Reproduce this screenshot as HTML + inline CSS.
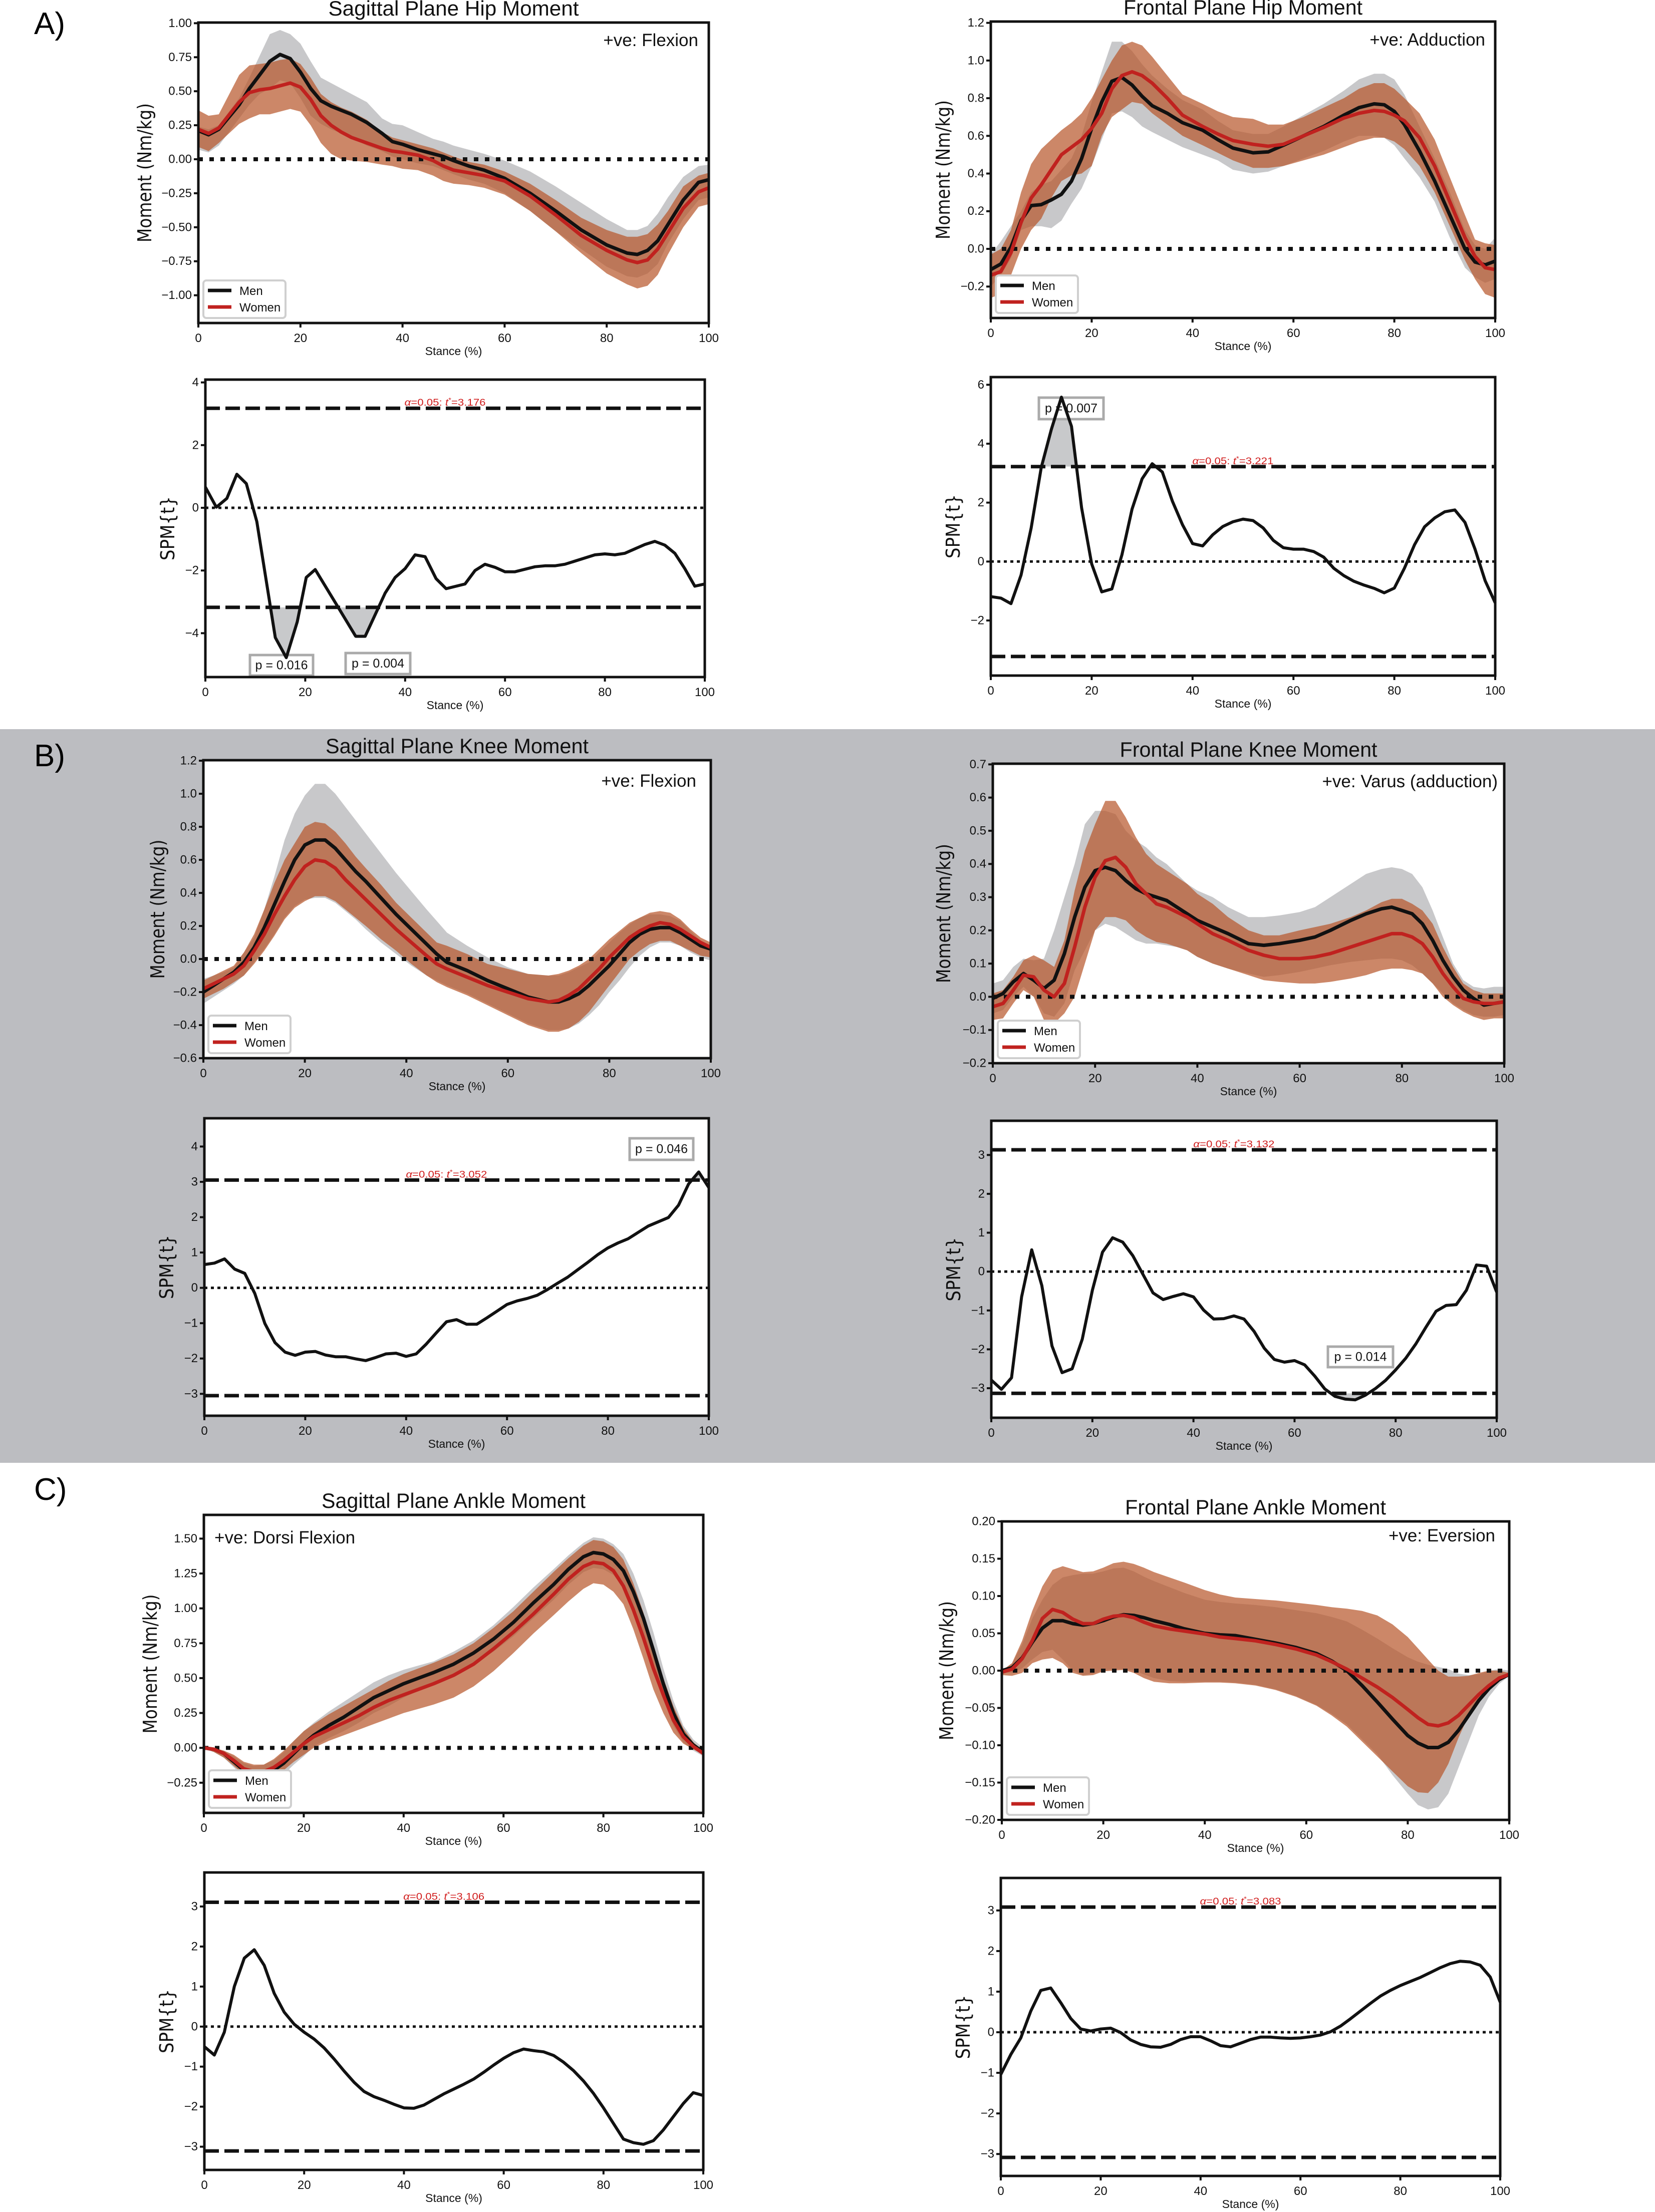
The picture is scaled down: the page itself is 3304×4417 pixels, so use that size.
<!DOCTYPE html>
<html><head><meta charset="utf-8"><title>Hip, Knee and Ankle Moments - Men vs Women</title>
<style>
html,body{margin:0;padding:0;background:#fff;}
svg{display:block;}
text{font-family:"Liberation Sans",sans-serif;}
</style></head>
<body>
<svg id="fig" xmlns="http://www.w3.org/2000/svg" width="3304" height="4417" viewBox="0 0 3304 4417">
<rect x="0" y="0" width="3304" height="4417" fill="#ffffff"/>
<rect x="0" y="1456" width="3304" height="1465" fill="#bcbdc1"/>
<text x="68" y="68" font-size="62">A)</text>
<text x="68" y="1530" font-size="62">B)</text>
<text x="68" y="2995" font-size="62">C)</text>
</svg>
<script>
// ===== DATA: Sagittal Plane Hip Moment =====
const hipSagX = [0,2,4,8,10,12,14,16,18,20,22,24,26,28,30,33,36,38,40,43,46,48,50,53,56,60,65,70,75,80,84,86,88,90,92,95,98,100];
const hipSagMen = [0.21,0.18,0.22,0.4,0.52,0.62,0.72,0.77,0.74,0.64,0.52,0.43,0.39,0.36,0.33,0.27,0.19,0.13,0.11,0.07,0.04,0.02,-0.01,-0.05,-0.08,-0.14,-0.25,-0.38,-0.52,-0.63,-0.69,-0.7,-0.67,-0.6,-0.48,-0.3,-0.17,-0.15];
const hipSagMenUp = [0.24,0.22,0.25,0.45,0.6,0.76,0.92,0.95,0.92,0.85,0.72,0.6,0.56,0.52,0.48,0.42,0.3,0.26,0.25,0.2,0.15,0.13,0.1,0.07,0.04,-0.01,-0.09,-0.2,-0.32,-0.44,-0.52,-0.52,-0.49,-0.4,-0.28,-0.13,-0.05,-0.04];
const hipSagMenLo = [0.07,0.05,0.1,0.3,0.4,0.48,0.52,0.58,0.56,0.45,0.32,0.26,0.22,0.19,0.16,0.1,0.06,0.02,0.0,-0.03,-0.05,-0.08,-0.11,-0.15,-0.18,-0.25,-0.38,-0.53,-0.66,-0.79,-0.86,-0.87,-0.84,-0.77,-0.62,-0.44,-0.3,-0.28];
const hipSagWomen = [0.22,0.19,0.23,0.42,0.49,0.51,0.52,0.54,0.56,0.53,0.44,0.32,0.25,0.2,0.16,0.12,0.08,0.06,0.05,0.03,-0.01,-0.05,-0.08,-0.1,-0.12,-0.16,-0.27,-0.41,-0.56,-0.67,-0.74,-0.76,-0.74,-0.66,-0.54,-0.36,-0.24,-0.21];
const hipSagWomenUp = [0.36,0.32,0.33,0.62,0.69,0.7,0.71,0.73,0.74,0.7,0.6,0.48,0.42,0.38,0.35,0.29,0.2,0.16,0.14,0.11,0.08,0.05,0.02,-0.02,-0.04,-0.09,-0.18,-0.3,-0.43,-0.52,-0.57,-0.57,-0.55,-0.48,-0.38,-0.2,-0.12,-0.1];
const hipSagWomenLo = [0.09,0.06,0.12,0.26,0.3,0.33,0.33,0.35,0.37,0.35,0.25,0.12,0.04,0.0,-0.01,-0.02,-0.04,-0.05,-0.07,-0.08,-0.12,-0.16,-0.18,-0.19,-0.21,-0.26,-0.38,-0.53,-0.69,-0.84,-0.92,-0.95,-0.93,-0.85,-0.7,-0.5,-0.35,-0.33];
const hipSagTicks = [-1.0,-0.75,-0.5,-0.25,0.0,0.25,0.5,0.75,1.0];

// ===== DATA: Frontal Plane Hip Moment =====
const hipFrX = [0,2,4,6,8,10,12,14,16,18,20,22,24,26,28,30,32,35,38,42,45,48,52,55,58,62,66,70,73,76,78,80,82,85,88,91,94,96,98,100];
const hipFrMen = [-0.11,-0.08,0.01,0.15,0.23,0.235,0.26,0.29,0.36,0.48,0.64,0.78,0.89,0.91,0.87,0.81,0.76,0.72,0.67,0.63,0.58,0.535,0.51,0.515,0.55,0.6,0.65,0.71,0.75,0.77,0.765,0.73,0.66,0.52,0.36,0.18,0.0,-0.07,-0.085,-0.065];
const hipFrMenUp = [-0.03,0.04,0.12,0.2,0.3,0.34,0.36,0.42,0.48,0.6,0.78,0.94,1.1,1.1,1.05,0.98,0.92,0.85,0.79,0.74,0.68,0.63,0.61,0.61,0.65,0.71,0.77,0.84,0.9,0.93,0.93,0.9,0.82,0.65,0.48,0.3,0.1,0.02,0.0,0.06];
const hipFrMenLo = [-0.2,-0.14,-0.05,0.1,0.12,0.12,0.11,0.15,0.24,0.32,0.44,0.58,0.72,0.73,0.7,0.65,0.62,0.58,0.54,0.5,0.47,0.42,0.4,0.41,0.44,0.48,0.52,0.57,0.6,0.6,0.59,0.55,0.48,0.38,0.25,0.06,-0.1,-0.15,-0.18,-0.16];
const hipFrWomen = [-0.14,-0.12,-0.02,0.14,0.27,0.34,0.42,0.5,0.54,0.58,0.64,0.72,0.85,0.92,0.94,0.92,0.88,0.8,0.71,0.65,0.61,0.575,0.555,0.545,0.555,0.6,0.645,0.695,0.72,0.735,0.73,0.71,0.68,0.59,0.44,0.25,0.06,-0.04,-0.1,-0.11];
const hipFrWomenUp = [-0.03,0.0,0.1,0.3,0.45,0.53,0.58,0.63,0.67,0.72,0.8,0.9,1.0,1.08,1.1,1.08,1.02,0.92,0.82,0.77,0.73,0.7,0.69,0.66,0.66,0.7,0.75,0.8,0.85,0.88,0.88,0.85,0.8,0.72,0.58,0.38,0.18,0.05,0.03,0.02];
const hipFrWomenLo = [-0.26,-0.24,-0.14,0.0,0.1,0.16,0.27,0.36,0.39,0.4,0.44,0.6,0.7,0.74,0.78,0.77,0.72,0.66,0.6,0.55,0.51,0.47,0.43,0.43,0.44,0.47,0.5,0.54,0.57,0.59,0.59,0.57,0.53,0.44,0.3,0.12,-0.06,-0.16,-0.24,-0.26];
const hipFrTicks = [-0.2,0.0,0.2,0.4,0.6,0.8,1.0,1.2];

// ===== DATA: Sagittal Plane Knee Moment =====
const kneeSagX = [0,2,4,6,8,10,12,14,16,18,20,22,24,26,28,30,32,35,38,41,44,46,48,52,56,60,64,68,70,72,74,76,78,80,82,84,86,88,90,92,94,96,98,100];
const kneeSagMen = [-0.2,-0.16,-0.12,-0.08,-0.02,0.07,0.19,0.33,0.47,0.6,0.69,0.72,0.72,0.67,0.6,0.53,0.47,0.37,0.27,0.18,0.09,0.03,-0.02,-0.07,-0.13,-0.18,-0.23,-0.26,-0.26,-0.24,-0.21,-0.16,-0.1,-0.04,0.03,0.1,0.15,0.18,0.19,0.19,0.16,0.12,0.08,0.06];
const kneeSagMenUp = [-0.12,-0.1,-0.08,-0.05,0.04,0.13,0.3,0.5,0.72,0.88,0.99,1.06,1.06,1.0,0.92,0.84,0.76,0.64,0.52,0.41,0.3,0.23,0.16,0.08,0.01,-0.05,-0.09,-0.1,-0.1,-0.08,-0.05,-0.02,0.04,0.1,0.16,0.21,0.25,0.27,0.27,0.26,0.23,0.17,0.11,0.08];
const kneeSagMenLo = [-0.27,-0.23,-0.19,-0.15,-0.1,-0.02,0.06,0.15,0.25,0.32,0.36,0.37,0.37,0.34,0.29,0.24,0.18,0.1,0.03,-0.04,-0.1,-0.13,-0.16,-0.21,-0.27,-0.33,-0.39,-0.43,-0.43,-0.42,-0.39,-0.34,-0.28,-0.2,-0.13,-0.05,0.02,0.07,0.1,0.1,0.08,0.04,0.01,-0.01];
const kneeSagWomen = [-0.18,-0.15,-0.12,-0.09,-0.04,0.05,0.15,0.27,0.38,0.48,0.56,0.6,0.59,0.55,0.48,0.42,0.36,0.27,0.18,0.1,0.02,-0.03,-0.06,-0.11,-0.16,-0.2,-0.24,-0.26,-0.25,-0.22,-0.18,-0.12,-0.06,0.01,0.07,0.13,0.17,0.2,0.22,0.21,0.18,0.14,0.1,0.07];
const kneeSagWomenUp = [-0.13,-0.1,-0.07,-0.04,0.04,0.15,0.3,0.46,0.6,0.7,0.8,0.83,0.82,0.77,0.7,0.62,0.55,0.45,0.34,0.25,0.16,0.1,0.08,0.03,-0.03,-0.06,-0.09,-0.1,-0.09,-0.07,-0.04,0.0,0.06,0.12,0.17,0.22,0.25,0.28,0.29,0.28,0.24,0.18,0.13,0.1];
const kneeSagWomenLo = [-0.24,-0.21,-0.18,-0.14,-0.1,-0.03,0.05,0.14,0.24,0.31,0.35,0.38,0.38,0.35,0.3,0.25,0.2,0.12,0.05,-0.03,-0.1,-0.14,-0.17,-0.22,-0.28,-0.34,-0.4,-0.44,-0.44,-0.42,-0.38,-0.32,-0.24,-0.16,-0.08,0.0,0.05,0.09,0.11,0.11,0.08,0.05,0.02,0.01];
const kneeSagTicks = [-0.6,-0.4,-0.2,0.0,0.2,0.4,0.6,0.8,1.0,1.2];

// ===== DATA: Frontal Plane Knee Moment =====
const kneeFrX = [0,2,4,6,8,10,12,14,16,18,20,22,24,26,28,30,32,34,36,38,40,43,46,50,53,56,60,63,66,70,73,76,78,80,82,84,86,88,90,92,94,96,98,100];
const kneeFrMen = [-0.005,0.01,0.045,0.07,0.05,0.025,0.05,0.13,0.24,0.33,0.38,0.39,0.38,0.35,0.325,0.31,0.3,0.29,0.27,0.25,0.23,0.21,0.19,0.16,0.155,0.16,0.17,0.18,0.2,0.23,0.25,0.265,0.27,0.26,0.25,0.22,0.17,0.11,0.06,0.02,-0.005,-0.025,-0.02,-0.015];
const kneeFrMenUp = [0.04,0.05,0.09,0.115,0.11,0.115,0.2,0.3,0.4,0.52,0.56,0.56,0.55,0.5,0.47,0.45,0.42,0.4,0.37,0.34,0.32,0.3,0.27,0.24,0.24,0.245,0.255,0.27,0.3,0.34,0.37,0.385,0.39,0.385,0.37,0.33,0.26,0.18,0.1,0.05,0.03,0.025,0.03,0.03];
const kneeFrMenLo = [-0.05,-0.04,0.0,0.03,0.0,-0.05,-0.06,-0.02,0.08,0.14,0.2,0.22,0.21,0.19,0.17,0.16,0.16,0.155,0.15,0.14,0.12,0.1,0.085,0.07,0.06,0.065,0.075,0.085,0.095,0.105,0.11,0.115,0.115,0.11,0.095,0.07,0.04,0.01,-0.02,-0.04,-0.055,-0.06,-0.06,-0.055];
const kneeFrWomen = [-0.03,-0.02,0.02,0.065,0.06,0.02,0.0,0.04,0.15,0.27,0.36,0.41,0.42,0.39,0.34,0.31,0.28,0.27,0.255,0.24,0.22,0.19,0.17,0.14,0.125,0.115,0.115,0.12,0.13,0.15,0.165,0.18,0.19,0.19,0.18,0.16,0.12,0.07,0.03,-0.005,-0.015,-0.02,-0.02,-0.015];
const kneeFrWomenUp = [0.01,0.02,0.06,0.11,0.125,0.11,0.09,0.17,0.32,0.44,0.52,0.59,0.59,0.54,0.48,0.43,0.4,0.38,0.36,0.34,0.31,0.28,0.24,0.2,0.185,0.185,0.2,0.21,0.22,0.24,0.26,0.285,0.295,0.295,0.28,0.26,0.22,0.15,0.09,0.04,0.02,0.01,0.01,0.01];
const kneeFrWomenLo = [-0.07,-0.065,-0.02,0.02,0.0,-0.07,-0.08,-0.05,0.0,0.1,0.2,0.24,0.24,0.23,0.2,0.18,0.165,0.16,0.15,0.14,0.12,0.1,0.085,0.065,0.05,0.045,0.04,0.04,0.045,0.055,0.065,0.08,0.085,0.085,0.08,0.07,0.04,0.0,-0.025,-0.045,-0.06,-0.07,-0.065,-0.065];
const kneeFrTicks = [-0.2,-0.1,0.0,0.1,0.2,0.3,0.4,0.5,0.6,0.7];

// ===== DATA: Sagittal Plane Ankle Moment =====
const ankSagX = [0,2,4,6,8,10,12,14,16,18,20,22,25,28,31,34,37,40,43,46,50,54,58,62,66,70,73,76,78,80,82,84,86,88,90,92,94,96,98,100];
const ankSagMen = [0.0,-0.01,-0.04,-0.1,-0.16,-0.19,-0.19,-0.16,-0.11,-0.04,0.03,0.09,0.16,0.22,0.29,0.36,0.41,0.46,0.5,0.54,0.6,0.68,0.78,0.9,1.04,1.17,1.28,1.37,1.4,1.39,1.35,1.27,1.12,0.93,0.7,0.46,0.25,0.1,0.02,-0.03];
const ankSagMenUp = [0.01,0.0,-0.02,-0.06,-0.11,-0.13,-0.12,-0.09,-0.03,0.05,0.12,0.18,0.26,0.33,0.4,0.47,0.52,0.56,0.59,0.62,0.69,0.77,0.88,1.01,1.15,1.28,1.38,1.47,1.51,1.5,1.46,1.39,1.25,1.06,0.83,0.57,0.34,0.16,0.06,0.0];
const ankSagMenLo = [-0.01,-0.03,-0.07,-0.14,-0.21,-0.25,-0.26,-0.23,-0.19,-0.12,-0.06,0.01,0.07,0.12,0.18,0.25,0.3,0.36,0.41,0.46,0.52,0.6,0.69,0.8,0.93,1.06,1.17,1.26,1.29,1.28,1.24,1.15,0.99,0.8,0.57,0.35,0.16,0.04,-0.02,-0.06];
const ankSagWomen = [0.0,-0.01,-0.04,-0.09,-0.15,-0.17,-0.17,-0.14,-0.09,-0.03,0.03,0.08,0.13,0.18,0.23,0.29,0.34,0.38,0.42,0.46,0.52,0.6,0.71,0.83,0.96,1.1,1.21,1.3,1.33,1.32,1.27,1.16,0.99,0.79,0.57,0.38,0.2,0.08,0.01,-0.04];
const ankSagWomenUp = [0.0,0.0,-0.02,-0.05,-0.1,-0.12,-0.12,-0.08,-0.02,0.05,0.12,0.17,0.24,0.3,0.36,0.42,0.48,0.53,0.57,0.61,0.67,0.75,0.86,0.98,1.12,1.26,1.36,1.45,1.49,1.48,1.44,1.35,1.18,0.97,0.73,0.5,0.3,0.14,0.04,-0.02];
const ankSagWomenLo = [0.0,-0.03,-0.07,-0.13,-0.19,-0.23,-0.23,-0.2,-0.16,-0.1,-0.05,0.0,0.05,0.09,0.13,0.17,0.21,0.25,0.28,0.31,0.36,0.44,0.55,0.68,0.82,0.95,1.05,1.14,1.18,1.17,1.12,1.03,0.85,0.64,0.42,0.25,0.11,0.03,-0.01,-0.05];
const ankSagTicks = [-0.25,0.0,0.25,0.5,0.75,1.0,1.25,1.5];

// ===== DATA: Frontal Plane Ankle Moment =====
const ankFrX = [0,2,4,6,8,10,12,14,16,18,20,22,24,26,28,30,33,36,40,43,46,50,54,58,62,65,68,71,74,77,80,82,84,86,88,90,92,94,96,98,100];
const ankFrMen = [0.0,0.004,0.017,0.038,0.057,0.067,0.067,0.063,0.061,0.063,0.067,0.072,0.075,0.074,0.071,0.067,0.062,0.056,0.05,0.048,0.047,0.042,0.037,0.031,0.023,0.013,0.0,-0.02,-0.042,-0.065,-0.087,-0.097,-0.103,-0.103,-0.096,-0.08,-0.06,-0.04,-0.024,-0.012,-0.005];
const ankFrMenUp = [0.0,0.01,0.035,0.07,0.095,0.115,0.125,0.128,0.13,0.13,0.133,0.137,0.138,0.133,0.126,0.12,0.112,0.104,0.095,0.092,0.09,0.088,0.085,0.081,0.077,0.072,0.066,0.055,0.043,0.03,0.018,0.012,0.008,0.005,0.002,-0.004,-0.006,-0.005,0.0,0.002,0.0];
const ankFrMenLo = [-0.002,-0.003,0.003,0.015,0.025,0.028,0.015,0.0,-0.006,-0.004,0.0,0.002,0.002,0.0,-0.005,-0.01,-0.014,-0.015,-0.015,-0.015,-0.016,-0.019,-0.025,-0.034,-0.046,-0.058,-0.072,-0.092,-0.112,-0.14,-0.165,-0.18,-0.186,-0.183,-0.165,-0.13,-0.095,-0.06,-0.035,-0.018,-0.007];
const ankFrWomen = [-0.002,0.002,0.016,0.04,0.07,0.082,0.078,0.069,0.063,0.063,0.069,0.073,0.074,0.071,0.065,0.06,0.056,0.053,0.049,0.045,0.043,0.04,0.035,0.029,0.021,0.012,0.002,-0.01,-0.022,-0.036,-0.052,-0.063,-0.072,-0.074,-0.07,-0.06,-0.046,-0.032,-0.02,-0.01,-0.005];
const ankFrWomenUp = [0.0,0.01,0.04,0.08,0.113,0.135,0.14,0.136,0.132,0.133,0.138,0.144,0.146,0.143,0.138,0.132,0.125,0.118,0.108,0.102,0.098,0.096,0.094,0.091,0.088,0.085,0.083,0.08,0.074,0.062,0.045,0.03,0.015,0.0,-0.008,-0.008,-0.007,-0.003,0.0,0.0,-0.003];
const ankFrWomenLo = [-0.006,-0.007,-0.003,0.01,0.015,0.017,0.01,-0.003,-0.007,-0.006,-0.001,0.0,0.001,-0.003,-0.01,-0.015,-0.017,-0.017,-0.016,-0.016,-0.017,-0.02,-0.026,-0.035,-0.047,-0.06,-0.075,-0.095,-0.115,-0.135,-0.155,-0.163,-0.164,-0.15,-0.125,-0.09,-0.06,-0.037,-0.02,-0.01,-0.006];
const ankFrTicks = [-0.2,-0.15,-0.1,-0.05,0.0,0.05,0.1,0.15,0.2];

// ===== DATA: SPM{t} curves =====
const spmStance = [0,2,4,6,8,10,12,14,16,18,20,22,24,26,28,30,32,34,36,38,40,42,44,46,48,50,52,54,56,58,60,62,64,66,68,70,72,74,76,78,80,82,84,86,88,90,92,94,96,98,100];
const hipSagSpmX = [0,2.2,4.3,6.3,8.2,10.3,14,16.2,18.4,20.2,22,26.5,30.1,32,36,38,40,42,44,46.2,48.2,52,54,56,58,60,62,66,68,70,72,78,80,82,84,88,90,92,94,96,98,100];
const hipSagSpmT = [0.66,0.02,0.3,1.07,0.77,-0.44,-4.14,-4.78,-3.64,-2.22,-1.97,-3.15,-4.1,-4.1,-2.72,-2.22,-1.94,-1.5,-1.56,-2.26,-2.58,-2.43,-2.0,-1.8,-1.9,-2.04,-2.04,-1.88,-1.85,-1.85,-1.8,-1.5,-1.47,-1.5,-1.45,-1.17,-1.07,-1.19,-1.45,-1.94,-2.5,-2.43];
const hipFrSpmT = [-1.19,-1.24,-1.43,-0.46,1.14,3.19,4.48,5.58,4.59,1.82,-0.08,-1.03,-0.93,0.23,1.78,2.81,3.32,3.04,2.05,1.25,0.61,0.53,0.91,1.19,1.35,1.44,1.39,1.14,0.72,0.47,0.42,0.42,0.34,0.15,-0.23,-0.48,-0.67,-0.8,-0.91,-1.06,-0.9,-0.23,0.57,1.18,1.48,1.69,1.75,1.33,0.42,-0.65,-1.4];
const kneeSagSpmT = [0.66,0.7,0.82,0.53,0.41,-0.16,-1.01,-1.55,-1.82,-1.91,-1.82,-1.8,-1.9,-1.95,-1.95,-2.01,-2.06,-1.97,-1.87,-1.85,-1.94,-1.87,-1.59,-1.27,-0.96,-0.9,-1.03,-1.03,-0.85,-0.66,-0.47,-0.37,-0.3,-0.21,-0.05,0.13,0.3,0.51,0.72,0.94,1.13,1.27,1.39,1.57,1.75,1.87,1.99,2.34,2.94,3.28,2.84];
const kneeFrSpmT = [-2.79,-3.03,-2.73,-0.65,0.56,-0.36,-1.91,-2.6,-2.5,-1.74,-0.48,0.5,0.87,0.76,0.41,-0.07,-0.55,-0.72,-0.64,-0.57,-0.65,-0.99,-1.22,-1.21,-1.14,-1.22,-1.54,-1.97,-2.26,-2.33,-2.29,-2.4,-2.69,-3.02,-3.21,-3.28,-3.3,-3.18,-3.01,-2.8,-2.53,-2.23,-1.86,-1.43,-1.02,-0.87,-0.85,-0.48,0.17,0.14,-0.53];
const ankSagSpmT = [-0.5,-0.71,-0.14,1.0,1.71,1.92,1.53,0.83,0.36,0.06,-0.14,-0.31,-0.53,-0.81,-1.11,-1.39,-1.62,-1.75,-1.84,-1.94,-2.03,-2.04,-1.96,-1.82,-1.68,-1.56,-1.44,-1.31,-1.14,-0.96,-0.79,-0.65,-0.56,-0.6,-0.63,-0.72,-0.89,-1.1,-1.36,-1.67,-2.03,-2.42,-2.81,-2.9,-2.94,-2.85,-2.58,-2.25,-1.92,-1.65,-1.72];
const ankFrSpmT = [-1.04,-0.55,-0.14,0.52,1.03,1.09,0.73,0.34,0.08,0.03,0.08,0.1,-0.01,-0.19,-0.3,-0.36,-0.37,-0.3,-0.18,-0.11,-0.11,-0.21,-0.33,-0.36,-0.27,-0.18,-0.12,-0.12,-0.14,-0.15,-0.14,-0.11,-0.07,0.01,0.15,0.33,0.52,0.71,0.89,1.03,1.15,1.25,1.35,1.47,1.59,1.69,1.75,1.73,1.65,1.36,0.74];
const spmThresholds = [3.176,3.221,3.052,3.132,3.106,3.083];
const spmTicks4 = [-4,-2,0,2,4];
const spmTicks6 = [-2,0,2,4,6];
const spmTicksK = [-3,-2,-1,0,1,2,3,4];
const spmTicks3 = [-3,-2,-1,0,1,2,3];
const xTickVals = [0,20,40,60,80,100];

// ===== RENDERING =====
const svg = document.getElementById('fig');
const NS = 'http://www.w3.org/2000/svg';
let clipCount = 0;
function el(tag, parent, attrs){
  const e = document.createElementNS(NS, tag);
  for (const k in attrs) e.setAttribute(k, attrs[k]);
  parent.appendChild(e);
  return e;
}
function fmtTick(v, dec){
  const s = Math.abs(v).toFixed(dec);
  return (v < -1e-9 ? '\u2212' : '') + s;
}
function makeAxes(P){
  P.sx = v => P.x0 + v / 100 * (P.x1 - P.x0);
  P.sy = v => P.y1 - (v - P.ymin) / (P.ymax - P.ymin) * (P.y1 - P.y0);
  const g = el('g', svg, {});
  
  
  const bg = el('rect', g, {x:P.x0, y:P.y0, width:P.x1-P.x0, height:P.y1-P.y0, fill:'#ffffff'});
  
  
  const id = 'clip' + (clipCount++);
  const cp = el('clipPath', g, {id:id});
  el('rect', cp, {x:P.x0, y:P.y0, width:P.x1-P.x0, height:P.y1-P.y0});
  const inner = el('g', g, {'clip-path':'url(#' + id + ')'});
  
  
  P.g = g; P.inner = inner;
  return P;
}
function finishAxes(P, yTicks, dec, ylabel, ylabelOff, ylabelLen){
  const g = P.g;
  const frame = el('rect', g, {x:P.x0, y:P.y0, width:P.x1-P.x0, height:P.y1-P.y0, fill:'none', stroke:'#111', 'stroke-width':5});
  
  
  for (const v of yTicks){
    const y = P.sy(v);
    const tk = el('line', g, {x1:P.x0-9, x2:P.x0, y1:y, y2:y, stroke:'#111', 'stroke-width':4});
    
    
    const t = el('text', g, {x:P.x0-13, y:y, 'font-size':24, 'text-anchor':'end', 'dominant-baseline':'central', fill:'#111'});
    t.textContent = fmtTick(v, dec);
    
    
  }
  for (const v of xTickVals){
    const x = P.sx(v);
    const tk = el('line', g, {x1:x, x2:x, y1:P.y1, y2:P.y1+9, stroke:'#111', 'stroke-width':4});
    
    
    const t = el('text', g, {x:x, y:P.y1+38, 'font-size':24, 'text-anchor':'middle', fill:'#111'});
    t.textContent = String(v);
    
    
  }
  const xl = el('text', g, {x:(P.x0+P.x1)/2, y:P.y1+64, 'font-size':23, 'text-anchor':'middle', fill:'#111'});
  xl.textContent = 'Stance (%)';
  
  
  const cx = P.x0 - ylabelOff, cy = (P.y0 + P.y1) / 2;
  const yl = el('text', g, {x:cx, y:cy, 'font-size':38, 'text-anchor':'middle', 'dominant-baseline':'central', fill:'#111',
    transform:'rotate(-90 ' + cx + ' ' + cy + ')', textLength:ylabelLen, lengthAdjust:'spacingAndGlyphs', style:'font-family:"DejaVu Sans",sans-serif'});
  yl.textContent = ylabel;
  
  
}
function pathFrom(xs, ys, P){
  let d = '';
  for (let i = 0; i < xs.length; i++) d += (i ? 'L' : 'M') + P.sx(xs[i]).toFixed(1) + ',' + P.sy(ys[i]).toFixed(1);
  return d;
}
function bandPath(xs, up, lo, P){
  let d = pathFrom(xs, up, P);
  for (let i = xs.length - 1; i >= 0; i--) d += 'L' + P.sx(xs[i]).toFixed(1) + ',' + P.sy(lo[i]).toFixed(1);
  return d + 'Z';
}
function drawMoment(P, xs, mM, mU, mL, wM, wU, wL, yTicks, dec, title, titleLen, note, noteX, noteY, noteAnchor){
  makeAxes(P);
  const gb = el('path', P.inner, {d:bandPath(xs, mU, mL, P), fill:'#9a9b9e', 'fill-opacity':0.55});
  
  
  const ob = el('path', P.inner, {d:bandPath(xs, wU, wL, P), fill:'rgb(184,87,44)', 'fill-opacity':0.714});
  
  
  const z = el('line', P.inner, {x1:P.x0, x2:P.x1, y1:P.sy(0), y2:P.sy(0), stroke:'#111', 'stroke-width':8, 'stroke-dasharray':'9 13'});
  
  
  const ml = el('path', P.inner, {d:pathFrom(xs, mM, P), fill:'none', stroke:'#111', 'stroke-width':7, 'stroke-linejoin':'round'});
  
  
  const wl = el('path', P.inner, {d:pathFrom(xs, wM, P), fill:'none', stroke:'#c0221f', 'stroke-width':7, 'stroke-linejoin':'round'});
  
  
  finishAxes(P, yTicks, dec, 'Moment (Nm/kg)', P.ylo, 278);
  const tt = el('text', P.g, {x:(P.x0+P.x1)/2, y:P.y0-14, 'font-size':42, 'text-anchor':'middle', fill:'#111', textLength:titleLen, lengthAdjust:'spacingAndGlyphs'});
  tt.textContent = title;
  
  
  const nt = el('text', P.g, {x:noteX, y:noteY, 'font-size':35, 'text-anchor':noteAnchor, fill:'#111'});
  nt.textContent = note;
  
  
  // legend
  const lx = P.x0 + 10, ly = P.y1 - 85;
  const lg = el('g', P.g, {});
  
  
  const lb = el('rect', lg, {x:lx, y:ly, width:164, height:75, rx:6, fill:'#ffffff', stroke:'#cfcfcf', 'stroke-width':4});
  
  
  const l1 = el('line', lg, {x1:lx+9, x2:lx+56, y1:ly+20, y2:ly+20, stroke:'#111', 'stroke-width':7});
  
  
  const t1 = el('text', lg, {x:lx+72, y:ly+29, 'font-size':24, fill:'#111'});
  t1.textContent = 'Men';
  
  
  const l2 = el('line', lg, {x1:lx+9, x2:lx+56, y1:ly+53, y2:ly+53, stroke:'#c0221f', 'stroke-width':7});
  
  
  const t2 = el('text', lg, {x:lx+72, y:ly+62, 'font-size':24, fill:'#111'});
  t2.textContent = 'Women';
  
  
}
function drawSpm(P, xs, ts, thr, yTicks, boxes){
  makeAxes(P);
  const ty = P.sy(thr), by = P.sy(-thr);
  // shaded supra-threshold clusters
  const id1 = 'clip' + (clipCount++);
  const c1 = el('clipPath', P.inner, {id:id1});
  el('rect', c1, {x:P.x0, y:P.y0, width:P.x1-P.x0, height:ty-P.y0});
  let d = pathFrom(xs, ts, P) + 'L' + P.sx(100) + ',' + ty + 'L' + P.sx(0) + ',' + ty + 'Z';
  const s1 = el('path', P.inner, {d:d, fill:'#c8c9cb', 'clip-path':'url(#' + id1 + ')'});
  
  
  const id2 = 'clip' + (clipCount++);
  const c2 = el('clipPath', P.inner, {id:id2});
  el('rect', c2, {x:P.x0, y:by, width:P.x1-P.x0, height:P.y1-by});
  d = pathFrom(xs, ts, P) + 'L' + P.sx(100) + ',' + by + 'L' + P.sx(0) + ',' + by + 'Z';
  const s2 = el('path', P.inner, {d:d, fill:'#c8c9cb', 'clip-path':'url(#' + id2 + ')'});
  
  
  const th1 = el('line', P.inner, {x1:P.x0, x2:P.x1, y1:ty, y2:ty, stroke:'#111', 'stroke-width':7, 'stroke-dasharray':'29 11'});
  
  
  const th2 = el('line', P.inner, {x1:P.x0, x2:P.x1, y1:by, y2:by, stroke:'#111', 'stroke-width':7, 'stroke-dasharray':'29 11'});
  
  
  const z = el('line', P.inner, {x1:P.x0, x2:P.x1, y1:P.sy(0), y2:P.sy(0), stroke:'#111', 'stroke-width':5, 'stroke-dasharray':'6 7'});
  
  
  for (const b of boxes){
    const r = el('rect', P.g, {x:b[0], y:b[1], width:b[2], height:b[3], fill:'#ffffff', stroke:'#aaaaaa', 'stroke-width':5});
    
    
    const t = el('text', P.g, {x:b[0]+b[2]/2, y:b[1]+b[3]/2, 'font-size':25, 'text-anchor':'middle', 'dominant-baseline':'central', fill:'#111'});
    t.textContent = b[4];
    
    
  }
  const cv = el('path', P.g, {d:pathFrom(xs, ts, P), fill:'none', stroke:'#111', 'stroke-width':6, 'stroke-linejoin':'round'});
  
  
  const rt = el('text', P.g, {x:P.x0 + 0.48*(P.x1-P.x0), y:ty-5, 'font-size':19, 'text-anchor':'middle', fill:'#d01c1c', textLength:162, lengthAdjust:'spacingAndGlyphs'});
  
  
  const a = el('tspan', rt, {'font-style':'italic'}); a.textContent = '\u03b1';
  const b2 = el('tspan', rt, {}); b2.textContent = '=0.05:  ';
  const c = el('tspan', rt, {'font-style':'italic'}); c.textContent = 't';
  const s = el('tspan', rt, {'baseline-shift':'super', 'font-size':13}); s.textContent = '*';
  const e = el('tspan', rt, {}); e.textContent = '=' + thr.toFixed(3);
  finishAxes(P, yTicks, 0, 'SPM{t}', 75, 128);
}

// Sagittal hip
drawMoment({name:'hip-sagittal-moment-chart', x0:396, x1:1415, y0:45, y1:645, ymin:-1.204, ymax:1.005, ylo:107},
  hipSagX, hipSagMen, hipSagMenUp, hipSagMenLo, hipSagWomen, hipSagWomenUp, hipSagWomenLo, hipSagTicks, 2,
  'Sagittal Plane Hip Moment', 500, '+ve: Flexion', 1394, 92, 'end');
drawSpm({name:'hip-sagittal-spm-chart', x0:410, x1:1407, y0:758, y1:1352, ymin:-5.4, ymax:4.09},
  hipSagSpmX, hipSagSpmT, spmThresholds[0], spmTicks4, [[499,1308,126,41,'p = 0.016'],[690,1304,129,42,'p = 0.004']]);
// Frontal hip
drawMoment({name:'hip-frontal-moment-chart', x0:1978, x1:2985, y0:43, y1:635, ymin:-0.367, ymax:1.207, ylo:95},
  hipFrX, hipFrMen, hipFrMenUp, hipFrMenLo, hipFrWomen, hipFrWomenUp, hipFrWomenLo, hipFrTicks, 1,
  'Frontal Plane Hip Moment', 477, '+ve: Adduction', 2965, 91, 'end');
drawSpm({name:'hip-frontal-spm-chart', x0:1978, x1:2985, y0:753, y1:1349, ymin:-3.87, ymax:6.26},
  spmStance, hipFrSpmT, spmThresholds[1], spmTicks6, [[2074,794,129,43,'p = 0.007']]);
// Sagittal knee
drawMoment({name:'knee-sagittal-moment-chart', x0:406, x1:1419, y0:1518, y1:2113, ymin:-0.6, ymax:1.203, ylo:91},
  kneeSagX, kneeSagMen, kneeSagMenUp, kneeSagMenLo, kneeSagWomen, kneeSagWomenUp, kneeSagWomenLo, kneeSagTicks, 1,
  'Sagittal Plane Knee Moment', 525, '+ve: Flexion', 1390, 1571, 'end');
drawSpm({name:'knee-sagittal-spm-chart', x0:408, x1:1415, y0:2233, y1:2827, ymin:-3.62, ymax:4.8},
  spmStance, kneeSagSpmT, spmThresholds[2], spmTicksK, [[1257,2273,127,43,'p = 0.046']]);
// Frontal knee
drawMoment({name:'knee-frontal-moment-chart', x0:1982, x1:3003, y0:1525, y1:2123, ymin:-0.2, ymax:0.702, ylo:98},
  kneeFrX, kneeFrMen, kneeFrMenUp, kneeFrMenLo, kneeFrWomen, kneeFrWomenUp, kneeFrWomenLo, kneeFrTicks, 1,
  'Frontal Plane Knee Moment', 514, '+ve: Varus (adduction)', 2990, 1572, 'end');
drawSpm({name:'knee-frontal-spm-chart', x0:1979, x1:2988, y0:2238, y1:2831, ymin:-3.76, ymax:3.88},
  spmStance, kneeFrSpmT, spmThresholds[3], spmTicks3, [[2651,2689,130,41,'p = 0.014']]);
// Sagittal ankle
drawMoment({name:'ankle-sagittal-moment-chart', x0:407, x1:1404, y0:3025, y1:3620, ymin:-0.466, ymax:1.67, ylo:107},
  ankSagX, ankSagMen, ankSagMenUp, ankSagMenLo, ankSagWomen, ankSagWomenUp, ankSagWomenLo, ankSagTicks, 2,
  'Sagittal Plane Ankle Moment', 527, '+ve: Dorsi Flexion', 428, 3082, 'start');
drawSpm({name:'ankle-sagittal-spm-chart', x0:408, x1:1404, y0:3739, y1:4333, ymin:-3.58, ymax:3.85},
  spmStance, ankSagSpmT, spmThresholds[4], spmTicks3, []);
// Frontal ankle
drawMoment({name:'ankle-frontal-moment-chart', x0:2000, x1:3013, y0:3038, y1:3634, ymin:-0.2, ymax:0.2, ylo:110},
  ankFrX, ankFrMen, ankFrMenUp, ankFrMenLo, ankFrWomen, ankFrWomenUp, ankFrWomenLo, ankFrTicks, 2,
  'Frontal Plane Ankle Moment', 521, '+ve: Eversion', 2985, 3078, 'end');
drawSpm({name:'ankle-frontal-spm-chart', x0:1998, x1:2995, y0:3750, y1:4345, ymin:-3.54, ymax:3.8},
  spmStance, ankFrSpmT, spmThresholds[5], spmTicks3, []);
</script>
</body></html>
